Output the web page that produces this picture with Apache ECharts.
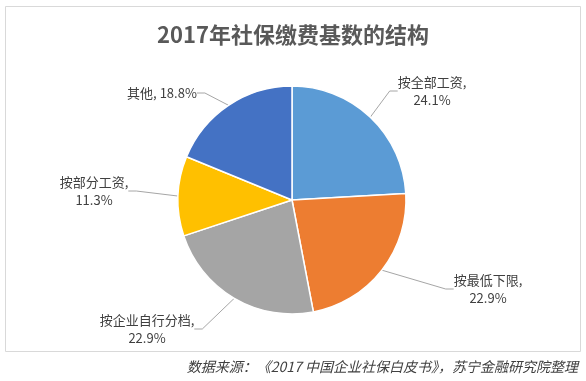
<!DOCTYPE html>
<html>
<head>
<meta charset="utf-8">
<script src="https://cdn.jsdelivr.net/npm/echarts@6/dist/echarts.min.js"></script>
<style>
html,body{margin:0;padding:0;background:#fff;}
#main{width:586px;height:381px;}
</style>
</head>
<body>
<div id="main"></div>
<script>
var titleText = '2017年社保缴费基数的结构';
var sourceText = '数据来源：《2017 中国企业社保白皮书》，苏宁金融研究院整理';
var categories = ['按全部工资', '按最低下限', '按企业自行分档', '按部分工资', '其他'];
var values = [24.1, 22.9, 22.9, 11.3, 18.8];
var colors = ['#5B9BD5', '#ED7D31', '#A5A5A5', '#FFC000', '#4472C4'];

// label anchor positions (label block centres), layout only
var labelPos = [[432, 91], [488, 289], [147, 329], [94, 191], [162, 93]];
var singleLine = [false, false, false, false, true];

var chart = echarts.init(document.getElementById('main'), null, {renderer: 'canvas'});
var font = '"Noto Sans CJK SC", "Noto Sans", sans-serif';

var data = categories.map(function (c, i) {
  return {name: c, value: values[i], itemStyle: {color: colors[i]}};
});

chart.setOption({
  animation: false,
  backgroundColor: '#ffffff',
  title: {
    text: titleText,
    left: 'center',
    top: 19,
    textStyle: {fontFamily: font, fontSize: 22, fontWeight: 'bold', color: '#595959'}
  },
  graphic: [
    {
      type: 'rect',
      shape: {x: 5.5, y: 6.5, width: 575, height: 345},
      style: {fill: 'none', stroke: '#D9D9D9', lineWidth: 1},
      silent: true
    },
    {
      type: 'text',
      right: 8,
      top: 360,
      style: {
        text: sourceText,
        font: 'italic 14px ' + font,
        fill: '#404040'
      },
      silent: true
    }
  ],
  series: [{
    type: 'pie',
    center: [292, 200],
    radius: 114,
    startAngle: 90,
    clockwise: true,
    data: data,
    itemStyle: {borderColor: '#ffffff', borderWidth: 1.5},
    label: {
      show: true,
      fontFamily: font,
      fontSize: 13,
      color: '#404040',
      lineHeight: 18,
      align: 'center',
      formatter: function (p) {
        var sep = singleLine[p.dataIndex] ? ', ' : ',\n';
        return p.name + sep + p.value.toFixed(1) + '%';
      }
    },
    labelLine: {
      show: true,
      length: 10,
      length2: 8,
      lineStyle: {color: '#A6A6A6', width: 1}
    },
    labelLayout: function (params) {
      var p = labelPos[params.dataIndex];
      return {x: p[0], y: p[1], align: 'center', verticalAlign: 'middle'};
    }
  }]
});
</script>
</body>
</html>
